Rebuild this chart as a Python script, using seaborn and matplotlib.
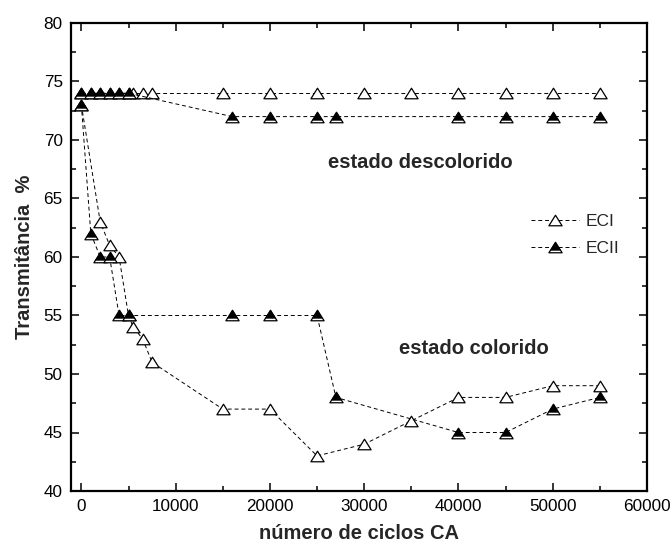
import numpy as np
import pandas as pd
import matplotlib
matplotlib.use("Agg")
import matplotlib.pyplot as plt
from matplotlib.path import Path
from matplotlib.ticker import MultipleLocator
import seaborn as sns

# Bleached state (estado descolorido)
eci_bleach_x = [0, 1000, 2000, 3000, 4000, 5000, 5500, 6500, 7500, 15000, 20000,
                25000, 30000, 35000, 40000, 45000, 50000, 55000]
eci_bleach_y = [74, 74, 74, 74, 74, 74, 74, 74, 74, 74, 74,
                74, 74, 74, 74, 74, 74, 74]
ecii_bleach_x = [0, 1000, 2000, 3000, 4000, 5000, 16000, 20000, 25000, 27000,
                 40000, 45000, 50000, 55000]
ecii_bleach_y = [74, 74, 74, 74, 74, 74, 72, 72, 72, 72, 72, 72, 72, 72]

# Coloured state (estado colorido)
eci_color_x = [0, 2000, 3000, 4000, 5000, 5500, 6500, 7500, 15000, 20000, 25000,
               30000, 35000, 40000, 45000, 50000, 55000]
eci_color_y = [73, 63, 61, 60, 55, 54, 53, 51, 47, 47, 43, 44, 46, 48, 48, 49, 49]
ecii_color_x = [0, 1000, 2000, 3000, 4000, 5000, 16000, 20000, 25000, 27000,
                40000, 45000, 50000, 55000]
ecii_color_y = [73, 62, 60, 60, 55, 55, 55, 55, 55, 48, 45, 45, 47, 48]

series_labels = ["ECI", "ECII"]

sns.set_theme(style="ticks")
plt.rcParams["font.family"] = ["Liberation Sans", "DejaVu Sans"]

fig = plt.figure(figsize=(6.72, 5.52), dpi=100)
ax = fig.add_axes([71 / 672, 1 - 491 / 552, 576 / 672, 468 / 552])

MS = 9.5
H = 0.8  # half height of the triangle relative to its half width
outer_tri = Path([(0, H), (-1, -H), (1, -H), (0, H)],
                 [Path.MOVETO, Path.LINETO, Path.LINETO, Path.CLOSEPOLY])
# Upper part of the same triangle, filled black, leaving a thin white band at the base
cut = -0.45
half_w = (H - cut) / (2 * H)
inner_tri = Path([(-1, 0), (0, H), (-half_w, cut), (half_w, cut), (0, H)],
                 [Path.MOVETO, Path.MOVETO, Path.LINETO, Path.LINETO, Path.CLOSEPOLY])

line_kw = dict(color="black", linewidth=0.7, dashes=(4, 3))
open_kw = dict(marker=outer_tri, markersize=MS, markerfacecolor="white",
               markeredgecolor="black", markeredgewidth=0.9)
fill_kw = dict(marker=inner_tri, markersize=MS, markerfacecolor="black",
               markeredgecolor="black", markeredgewidth=0.3)

def curve(x, y):
    return pd.DataFrame({"x": x, "y": y})

# ECI: open triangles
for xs, ys in [(eci_bleach_x, eci_bleach_y), (eci_color_x, eci_color_y)]:
    sns.lineplot(data=curve(xs, ys), x="x", y="y", ax=ax, sort=False,
                 **line_kw, **open_kw)
eci_handle = ax.lines[-1]

# ECII: black-filled triangles
for xs, ys in [(ecii_bleach_x, ecii_bleach_y), (ecii_color_x, ecii_color_y)]:
    sns.lineplot(data=curve(xs, ys), x="x", y="y", ax=ax, sort=False,
                 **line_kw, **open_kw)
    outer = ax.lines[-1]
    sns.lineplot(data=curve(xs, ys), x="x", y="y", ax=ax, sort=False,
                 linestyle="none", **fill_kw)
    inner = ax.lines[-1]
ecii_handle = (outer, inner)

ax.set_xlim(-1100, 60000)
ax.set_ylim(40, 80)
ax.xaxis.set_major_locator(MultipleLocator(10000))
ax.xaxis.set_minor_locator(MultipleLocator(5000))
ax.yaxis.set_major_locator(MultipleLocator(5))
ax.yaxis.set_minor_locator(MultipleLocator(2.5))

ax.tick_params(which="both", direction="in", top=True, right=True,
               labelsize=12.3, colors="black", pad=6)
ax.tick_params(which="major", length=6, width=1.1)
ax.tick_params(which="minor", length=3.5, width=1.1)
for sp in ax.spines.values():
    sp.set_linewidth(1.6)
    sp.set_color("black")

ax.set_xlabel("número de ciclos CA", fontsize=14.5, fontweight="bold", labelpad=7)
ax.set_ylabel("Transmitância  %", fontsize=14.5, fontweight="bold", labelpad=7)

ax.text(36000, 68.1, "estado descolorido", fontsize=14.5, fontweight="bold",
        ha="center", va="center")
ax.text(41650, 52.2, "estado colorido", fontsize=14.5, fontweight="bold",
        ha="center", va="center")

ax.legend([eci_handle, ecii_handle], series_labels, loc="upper left",
          bbox_to_anchor=(0.798, 0.592), frameon=False, fontsize=12.5,
          handlelength=2.8, handletextpad=0.35, labelspacing=0.7,
          borderpad=0, borderaxespad=0, numpoints=1)

fig.savefig("out.png", dpi=100)
